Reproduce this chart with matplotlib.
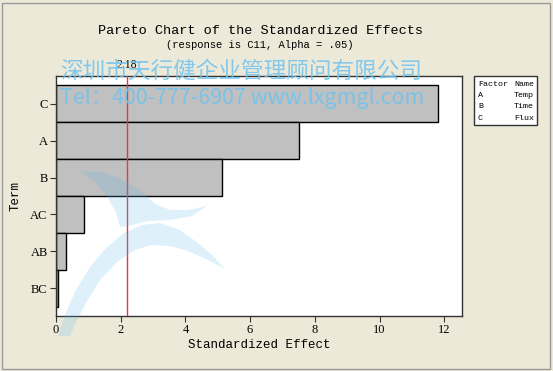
import matplotlib
matplotlib.use("Agg")
import matplotlib.pyplot as plt
from matplotlib.patches import Rectangle, Polygon

terms = ["C", "A", "B", "AC", "AB", "BC"]
effects = [11.8, 7.52, 5.12, 0.86, 0.30, 0.07]
critical = 2.18
xticks = [0, 2, 4, 6, 8, 10, 12]
factors = ["A", "B", "C"]
names = ["Temp", "Time", "Flux"]

W, H = 553, 371
fig = plt.figure(figsize=(W / 100, H / 100), dpi=100)
fig.patch.set_facecolor("#ECE9D8")
mono = "Liberation Mono"
serif = "Liberation Serif"


def fx(p):
    return (p[0] / W, 1 - p[1] / H)


# figure border
fig.add_artist(Rectangle((2 / W, 2 / H), 1 - 5 / W, 1 - 5 / H, transform=fig.transFigure,
                         fill=False, edgecolor="#9a9a9a", lw=1.0))

ax = fig.add_axes([56 / W, (H - 316) / H, 405.7 / W, 240 / H])
ax.set_facecolor("white")
ypos = list(range(len(terms)))
ax.barh(ypos, effects, height=1.0, color="#C0C0C0", edgecolor="black", lw=1.0, zorder=2)
ax.axvline(critical, color="#E03C3C", lw=1.0, zorder=3)
ax.set_xlim(0, 12.54)
ax.set_ylim(5.75, -0.75)
ax.set_yticks(ypos)
ax.set_yticklabels(terms, fontfamily=serif, fontsize=9)
ax.set_xticks(xticks)
ax.set_xticklabels([str(t) for t in xticks], fontfamily=serif, fontsize=9)
ax.tick_params(direction="out", length=4, width=0.8, colors="#333333", labelcolor="black", pad=2)
for s in ax.spines.values():
    s.set_color("#333333")
    s.set_linewidth(1.0)
ax.set_xlabel("Standardized Effect", fontfamily=mono, fontsize=9, labelpad=2)
ax.set_ylabel("Term", fontfamily=mono, fontsize=9, labelpad=6)
ax.text(critical, 1.02, "2.18", transform=ax.get_xaxis_transform(), ha="center", va="bottom",
        fontfamily=serif, fontsize=8.5, zorder=7)

fig.text(260 / W, 1 - 31 / H, "Pareto Chart of the Standardized Effects", ha="center", va="center",
         fontfamily=mono, fontsize=9.7)
fig.text(260 / W, 1 - 45 / H, "(response is C11, Alpha = .05)", ha="center", va="center",
         fontfamily=mono, fontsize=7.6)

# legend box
lx0, ly0, lx1, ly1 = 474, 76, 537, 125
fig.add_artist(Rectangle((lx0 / W, 1 - ly1 / H), (lx1 - lx0) / W, (ly1 - ly0) / H,
                         transform=fig.transFigure, facecolor="white", edgecolor="#333333", lw=1.0))
rows = [("Factor", "Name")] + list(zip(factors, names))
for i, (a, b) in enumerate(rows):
    yy = 1 - (84 + i * 11.5) / H
    fig.text(478 / W, yy, a, ha="left", va="center", fontfamily=mono, fontsize=6)
    fig.text(534 / W, yy, b, ha="right", va="center", fontfamily=mono, fontsize=6)

# watermark logo (decorative swooshes)
logo_color = "#5BB8EA"
upper = [(80, 171), (100, 172), (120, 178), (140, 190), (155, 204), (170, 210), (188, 210),
         (207, 206), (192, 216), (170, 220), (148, 221), (128, 226), (120, 227),
         (116, 212), (106, 195), (94, 181)]
lower = [(58, 336), (66, 312), (76, 290), (90, 267), (106, 248), (124, 233), (142, 225),
         (160, 223), (180, 230), (198, 243), (212, 255), (225, 269), (206, 259), (188, 251),
         (170, 246), (152, 245), (135, 250), (117, 262), (100, 280), (86, 303), (76, 322),
         (70, 336)]
for pts in (upper, lower):
    fig.add_artist(Polygon([fx(p) for p in pts], closed=True, transform=fig.transFigure,
                           facecolor=logo_color, edgecolor="none", alpha=0.2, zorder=5))

# watermark text
fig.text(60 / W, 1 - 71 / H, "深圳市天行健企业管理顾问有限公司", ha="left", va="center",
         family=["Noto Sans CJK SC", "DejaVu Sans"], fontsize=16.3, color="#6EC3F0", alpha=0.85,
         zorder=6)
fig.text(60 / W, 1 - 98 / H, "Tel：400-777-6907 www.lxgmgl.com", ha="left", va="center",
         family=["Noto Sans CJK SC", "DejaVu Sans"], fontsize=15.4, color="#6EC3F0", alpha=0.85,
         zorder=6)

fig.savefig("out.png", dpi=100, facecolor=fig.get_facecolor())
